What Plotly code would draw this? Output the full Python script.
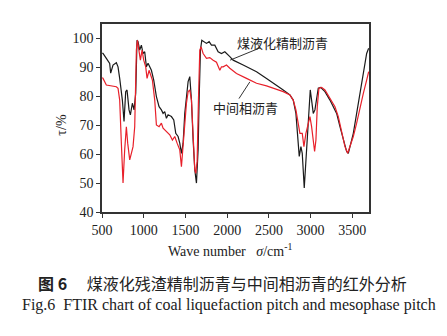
import plotly.graph_objects as go

# Coal liquefaction refined pitch (black)
wn_black = [505, 512, 552, 592, 604, 632, 672, 692, 712, 744, 764, 784, 800, 824, 840, 864, 884, 904,
            920, 932, 952, 972, 992, 1012, 1032, 1052, 1092, 1120, 1152, 1184, 1212, 1232, 1252, 1272,
            1292, 1332, 1360, 1384, 1412, 1432, 1452, 1472, 1492, 1512, 1532, 1552, 1572, 1592, 1612,
            1632, 1652, 1664, 1680, 1696, 1720, 1752, 1784, 1812, 1852, 1892, 1932, 1972, 2032, 2072,
            2192, 2352, 2472, 2592, 2672, 2752, 2792, 2824, 2844, 2864, 2884, 2900, 2924, 2944, 2960,
            2980, 2996, 3012, 3032, 3052, 3072, 3092, 3120, 3172, 3232, 3312, 3352, 3392, 3432, 3452,
            3472, 3512, 3552, 3592, 3632, 3672, 3696]
t_black = [95.0, 94.8, 93.1, 91.4, 88.0, 90.8, 91.6, 90.2, 86.2, 78.7, 71.3, 81.6, 82.2, 75.3, 73.6, 77.6,
           75.3, 81.0, 99.4, 98.9, 96.0, 97.7, 94.8, 95.4, 90.2, 91.4, 89.0, 85.6, 79.9, 76.4, 75.3, 74.1,
           74.7, 72.4, 73.6, 73.0, 71.8, 67.2, 66.1, 63.8, 60.3, 63.8, 74.1, 79.9, 85.1, 86.8, 78.7, 64.9,
           54.6, 50.0, 61.5, 78.7, 96.0, 99.4, 98.9, 98.3, 98.9, 97.7, 97.7, 95.4, 94.8, 95.4, 93.7, 92.5,
           90.8, 88.5, 86.2, 83.9, 82.2, 80.5, 78.7, 74.1, 67.2, 59.2, 62.6, 60.3, 48.3, 58.0, 67.2, 75.3,
           82.2, 78.7, 74.1, 75.3, 78.7, 82.8, 83.1, 81.6, 78.7, 74.1, 69.5, 64.9, 60.9, 60.3, 62.6, 67.2,
           74.1, 81.0, 87.9, 94.8, 96.6]

# Mesophase pitch (red)
wn_red = [505, 512, 552, 612, 672, 692, 712, 732, 752, 772, 792, 808, 832, 852, 872, 892, 912, 924, 944,
          960, 980, 1000, 1024, 1040, 1064, 1104, 1132, 1152, 1184, 1212, 1232, 1272, 1312, 1344, 1372,
          1400, 1432, 1452, 1472, 1492, 1512, 1532, 1552, 1572, 1592, 1612, 1624, 1640, 1656, 1672, 1688,
          1712, 1752, 1792, 1832, 1872, 1912, 1932, 1952, 1992, 2032, 2112, 2232, 2352, 2472, 2592, 2672,
          2752, 2792, 2824, 2852, 2872, 2900, 2920, 2944, 2972, 2992, 3012, 3032, 3048, 3064, 3080, 3100,
          3132, 3172, 3232, 3292, 3332, 3372, 3412, 3444, 3472, 3512, 3552, 3592, 3632, 3672, 3696]
t_red = [86.5, 86.2, 83.9, 83.6, 83.3, 82.8, 78.7, 63.8, 50.0, 61.5, 69.5, 63.8, 58.0, 60.3, 62.6, 69.5,
         96.0, 99.4, 94.8, 92.5, 96.0, 92.5, 90.2, 86.2, 89.0, 85.6, 78.7, 70.1, 69.5, 70.7, 69.0, 67.8,
         66.7, 64.9, 66.1, 63.8, 61.5, 55.7, 62.6, 71.8, 77.6, 81.6, 82.2, 78.7, 64.9, 54.6, 53.4, 57.5,
         78.7, 96.0, 97.1, 94.8, 93.1, 93.4, 92.5, 91.8, 89.0, 90.2, 90.2, 90.8, 89.7, 87.9, 86.2, 84.5,
         83.6, 82.4, 81.6, 80.5, 78.7, 75.3, 69.5, 67.2, 67.2, 62.6, 67.2, 70.7, 73.0, 69.5, 63.8, 60.9,
         64.9, 76.4, 82.8, 83.1, 82.2, 79.3, 76.4, 73.0, 67.8, 62.6, 60.3, 62.6, 66.1, 70.7, 76.4, 81.0,
         85.6, 88.5]

x_ticks = [500, 1000, 1500, 2000, 2500, 3000, 3500]
y_ticks = [40, 50, 60, 70, 80, 90, 100]

SERIF = "Liberation Serif, Times New Roman, serif"
CJK = "Noto Sans CJK SC"

fig = go.Figure()
fig.add_trace(go.Scatter(x=wn_black, y=t_black, mode="lines",
                         line=dict(color="#1a1a1a", width=1.2), name="煤液化精制沥青"))
fig.add_trace(go.Scatter(x=wn_red, y=t_red, mode="lines",
                         line=dict(color="#e8202a", width=1.2), name="中间相沥青"))

axis_common = dict(showline=True, linecolor="#333", linewidth=1.6, mirror=True,
                   ticks="outside", ticklen=4, tickcolor="#333", showgrid=False, zeroline=False,
                   tickfont=dict(family=SERIF, size=14, color="#222"))

fig.update_xaxes(range=[500, 3700], tickvals=x_ticks, **axis_common)
fig.update_yaxes(range=[40, 105], tickvals=y_ticks, **axis_common)

ann = []
ann.append(dict(x=2662, y=98.7, xref="x", yref="y", text="煤液化精制沥青", showarrow=False,
                font=dict(family=CJK, size=13, color="#222")))
ann.append(dict(x=2035, y=92.5, ax=2416, ay=97.0, xref="x", yref="y", axref="x", ayref="y",
                text="", showarrow=True, arrowhead=0, arrowwidth=1, arrowcolor="#333"))
ann.append(dict(x=2218, y=76.0, xref="x", yref="y", text="中间相沥青", showarrow=False,
                font=dict(family=CJK, size=13, color="#222")))
ann.append(dict(x=2272, y=85.0, ax=2130, ay=78.7, xref="x", yref="y", axref="x", ayref="y",
                text="", showarrow=True, arrowhead=0, arrowwidth=1, arrowcolor="#333"))
ann.append(dict(x=-0.151, y=0.463, xref="paper", yref="paper", text="τ/%", textangle=-90,
                xanchor="center", yanchor="middle",
                showarrow=False, font=dict(family=SERIF, size=14, color="#222")))
ann.append(dict(x=0.479, y=-0.202, xref="paper", yref="paper",
                text="Wave number&nbsp;&nbsp;&nbsp;<i>σ</i>/cm<sup>-1</sup>",
                xanchor="center", yanchor="middle",
                showarrow=False, font=dict(family=SERIF, size=14, color="#222")))
ann.append(dict(x=0.452, y=-0.378, xref="paper", yref="paper",
                text="<b>图 6</b>　 煤液化残渣精制沥青与中间相沥青的红外分析",
                xanchor="center", yanchor="middle",
                showarrow=False, font=dict(family=CJK, size=16, color="#222")))
ann.append(dict(x=0.474, y=-0.495, xref="paper", yref="paper",
                text="Fig.6  FTIR chart of coal liquefaction pitch and mesophase pitch",
                xanchor="center", yanchor="middle",
                showarrow=False, font=dict(family=SERIF, size=16, color="#222")))

fig.update_layout(width=447, height=336, margin=dict(l=102, r=78, t=24, b=124),
                  paper_bgcolor="white", plot_bgcolor="white", showlegend=False,
                  annotations=ann)

fig.write_html("out.html")
